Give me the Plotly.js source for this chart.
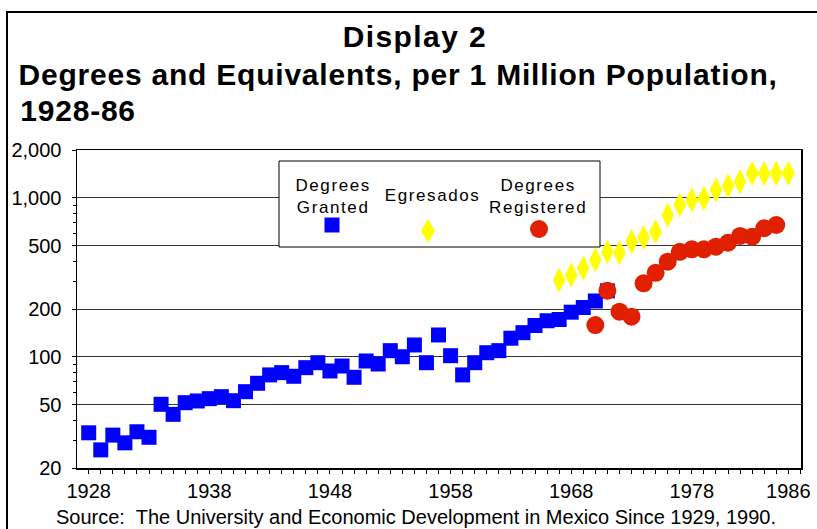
<!DOCTYPE html>
<html>
<head>
<meta charset="utf-8">
<script src="https://cdn.plot.ly/plotly-3.0.1.min.js"></script>
<style>
html,body{margin:0;padding:0;background:#fff;}
#chart{width:817px;height:529px;}
.annotation[data-index="0"] text{letter-spacing:1.4px;}
.annotation[data-index="1"] text,.annotation[data-index="2"] text{letter-spacing:0.78px;}
.annotation[data-index="4"] text,.annotation[data-index="5"] text,.annotation[data-index="6"] text{letter-spacing:1.6px;}
</style>
</head>
<body>
<div id="chart"></div>
<script>
// ---- data ----
const grantedYears = [1928,1929,1930,1931,1932,1933,1934,1935,1936,1937,1938,1939,1940,1941,1942,1943,1944,1945,1946,1947,1948,1949,1950,1951,1952,1953,1954,1955,1956,1957,1958,1959,1960,1961,1962,1963,1964,1965,1966,1967,1968,1969,1970,1971];
const grantedValues = [33.3,26,32.2,28.8,33.8,31.2,50.3,43.5,51.5,52.8,54.6,56.2,53,60.4,68.2,77,79.6,75.5,85.5,91.9,81.5,87.6,74.4,94.2,90.2,109.4,100.2,118.8,91.9,137.3,101.7,77,91.9,106.2,109.4,131,142,157.5,168.7,171.8,191,204.3,224.6,260];
const egresadosYears = [1967,1968,1969,1970,1971,1972,1973,1974,1975,1976,1977,1978,1979,1980,1981,1982,1983,1984,1985,1986];
const egresadosValues = [304,327,361,407,458,452,530,565,613,780,902,970,994,1120,1192,1264,1427,1420,1425,1427];
const registeredYears = [1970,1971,1972,1973,1974,1975,1976,1977,1978,1979,1980,1981,1982,1983,1984,1985];
const registeredValues = [158.6,260.7,192.3,179,290,338,397,458,475,475,493,522,576,570,644,675];

const seriesNames = ["Degrees<br>Granted","Egresados","Degrees<br>Registered"];
const xTickVals = [1928,1938,1948,1958,1968,1978,1986];
const xTickText = ["1928","1938","1948","1958","1968","1978","1986"];
const yTickVals = [20,50,100,200,500,1000,2000];
const yTickText = ["20","50","100","200","500","1,000","2,000"];
const yMinorVals = [30,40,60,70,80,90,300,400,600,700,800,900];
const titleLine1 = "Display 2";
const titleLine2 = "Degrees and Equivalents, per 1 Million Population,";
const titleLine3 = "1928-86";
const sourceText = "Source:\u00a0 The University and Economic Development in Mexico Since 1929, 1990.";

// ---- layout helpers (pixel -> paper) ----
const L = 77, R = 801, T = 150, B = 468;
const W = R - L, H = B - T;
const px = x => (x - L) / W;
const py = y => (B - y) / H;

const FONT = "Liberation Sans, Arial, Helvetica, sans-serif";
const BLUE = "#0000ff", YELLOW = "#ffff00", RED = "#e02000";

const traces = [
  {x: grantedYears, y: grantedValues, type: "scatter", mode: "markers", name: "Degrees Granted",
   marker: {symbol: "square", size: 15, color: BLUE, line: {width: 0}}},
  {x: egresadosYears, y: egresadosValues, type: "scatter", mode: "markers", name: "Egresados",
   marker: {symbol: "diamond-tall", size: 18, color: YELLOW, line: {width: 0}}},
  {x: registeredYears, y: registeredValues, type: "scatter", mode: "markers", name: "Degrees Registered",
   marker: {symbol: "circle", size: 18, color: RED, line: {width: 0}}}
];

const xRange = [1927.03, 1987.05];
const yRange = [Math.log10(20), Math.log10(2000)];

const layout = {
  width: 817, height: 529,
  margin: {l: L, r: 817 - R, t: T, b: 529 - B, pad: 0},
  paper_bgcolor: "#fff", plot_bgcolor: "#fff",
  showlegend: false,
  font: {family: FONT, size: 20, color: "#000"},
  xaxis: {
    range: xRange, type: "linear", fixedrange: true,
    tickmode: "array", tickvals: xTickVals, ticktext: xTickText,
    ticks: "", showgrid: false, zeroline: false,
    showline: true, linecolor: "#000", linewidth: 1.5, mirror: true,
    tickfont: {size: 20, family: FONT, color: "#000"},
    ticklabelstandoff: 4,
    minor: {tickmode: "linear", tick0: 1928, dtick: 1, ticks: "outside", ticklen: 4, tickcolor: "#000", tickwidth: 1, showgrid: false}
  },
  xaxis2: {
    range: xRange, overlaying: "x", anchor: "y", side: "bottom", fixedrange: true,
    tickmode: "linear", tick0: 1928, dtick: 1, ticks: "inside", ticklen: 4, tickcolor: "#000",
    showticklabels: false, showgrid: false, zeroline: false, showline: false
  },
  yaxis: {
    type: "log", range: yRange, fixedrange: true,
    tickmode: "array", tickvals: yTickVals, ticktext: yTickText,
    ticks: "outside", ticklen: 4, tickcolor: "#000",
    showgrid: true, gridcolor: "#333", gridwidth: 1,
    zeroline: false, showline: true, linecolor: "#000", linewidth: 1.5, mirror: true,
    tickfont: {size: 20, family: FONT, color: "#000"},
    ticklabelstandoff: 6,
    minor: {tickmode: "array", tickvals: yMinorVals, ticks: "outside", ticklen: 3, tickcolor: "#000", showgrid: false}
  },
  yaxis2: {
    type: "log", range: yRange, overlaying: "y", anchor: "x", side: "left", fixedrange: true,
    tickmode: "array", tickvals: yMinorVals, ticks: "inside", ticklen: 3, tickcolor: "#000",
    showticklabels: false, showgrid: false, zeroline: false, showline: false
  },
  shapes: [
    // outer frame
    {type: "rect", xref: "paper", yref: "paper", x0: px(7), x1: px(840), y0: py(12), y1: py(560),
     line: {color: "#000", width: 2}, fillcolor: "rgba(0,0,0,0)", layer: "above"},
    // legend box
    {type: "rect", xref: "paper", yref: "paper", x0: px(279), x1: px(600), y0: py(161), y1: py(247),
     line: {color: "#000", width: 1}, fillcolor: "#fff", layer: "above"},
    // legend symbols
    {type: "rect", xref: "paper", yref: "paper", x0: px(324.5), x1: px(339.5), y0: py(232.5), y1: py(217.5),
     line: {width: 0}, fillcolor: BLUE, layer: "above"},
    {type: "path", xref: "paper", yref: "paper",
     path: `M${px(428)},${py(219)} L${px(435)},${py(231)} L${px(428)},${py(243)} L${px(421)},${py(231)} Z`,
     line: {width: 0}, fillcolor: YELLOW, layer: "above"},
    {type: "circle", xref: "paper", yref: "paper", x0: px(530), x1: px(548), y0: py(238), y1: py(220),
     line: {width: 0}, fillcolor: RED, layer: "above"}
  ],
  annotations: [
    {text: titleLine1, xref: "paper", yref: "paper", x: px(415), y: py(37), xanchor: "center", yanchor: "middle",
     showarrow: false, borderpad: 0, font: {family: FONT, size: 30, weight: 700, color: "#000"}},
    {text: titleLine2, xref: "paper", yref: "paper", x: px(398), y: py(74), xanchor: "center", yanchor: "middle",
     showarrow: false, borderpad: 0, font: {family: FONT, size: 30, weight: 700, color: "#000"}},
    {text: titleLine3, xref: "paper", yref: "paper", x: px(78), y: py(110), xanchor: "center", yanchor: "middle",
     showarrow: false, borderpad: 0, font: {family: FONT, size: 30, weight: 700, color: "#000"}},
    {text: sourceText, xref: "paper", yref: "paper", x: px(416), y: py(517), xanchor: "center", yanchor: "middle",
     showarrow: false, borderpad: 0, font: {family: FONT, size: 20, color: "#000"}},
    {text: seriesNames[0], xref: "paper", yref: "paper", x: px(333), y: py(196), xanchor: "center", yanchor: "middle",
     showarrow: false, borderpad: 0, align: "center", font: {family: FONT, size: 17, color: "#000"}},
    {text: seriesNames[1], xref: "paper", yref: "paper", x: px(432), y: py(195), xanchor: "center", yanchor: "middle",
     showarrow: false, borderpad: 0, align: "center", font: {family: FONT, size: 17, color: "#000"}},
    {text: seriesNames[2], xref: "paper", yref: "paper", x: px(538), y: py(196), xanchor: "center", yanchor: "middle",
     showarrow: false, borderpad: 0, align: "center", font: {family: FONT, size: 17, color: "#000"}}
  ]
};

Plotly.newPlot("chart", traces, layout, {displayModeBar: false, staticPlot: true});
</script>
</body>
</html>
